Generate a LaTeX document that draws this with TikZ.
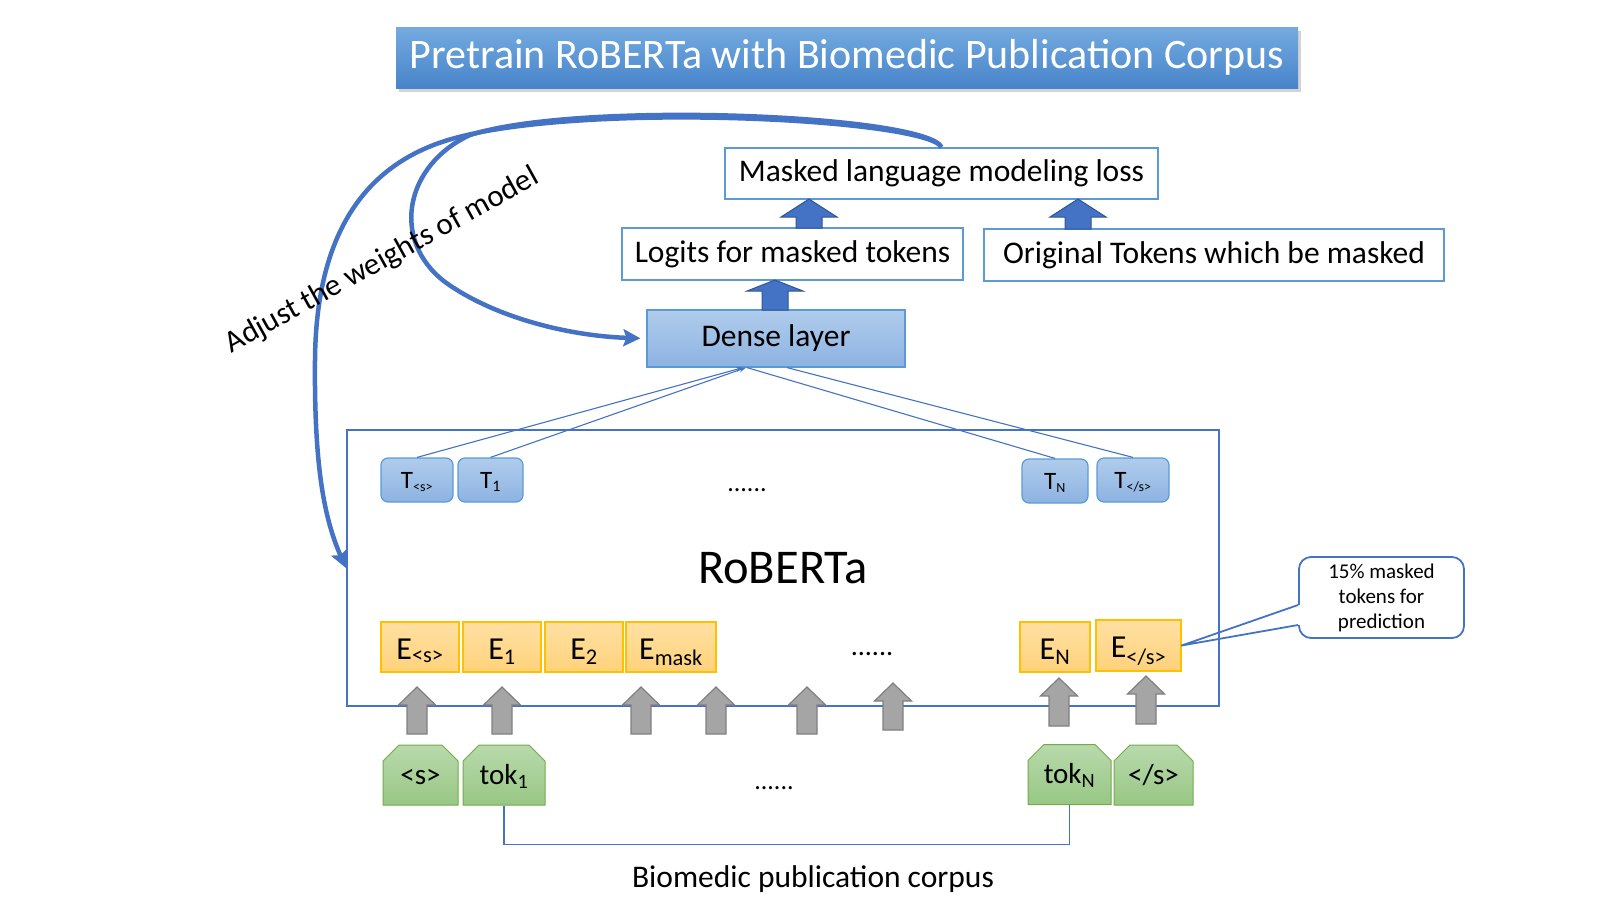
\documentclass[tikz,border=0pt]{standalone}
\usepackage{fontspec}
\setmainfont{Carlito}
\usetikzlibrary{calc,arrows.meta,shapes.misc,shadows}

\definecolor{linkblue}{HTML}{4472C4}
\definecolor{edgeblue}{HTML}{5B9BD5}
\definecolor{denseTop}{HTML}{B0CCEC}
\definecolor{denseBot}{HTML}{8DB3E2}
\definecolor{embTop}{HTML}{FFE0A3}
\definecolor{embBot}{HTML}{FFD27A}
\definecolor{embEdge}{HTML}{FFC000}
\definecolor{tokTop}{HTML}{B9D9AC}
\definecolor{tokBot}{HTML}{97C784}
\definecolor{tokEdge}{HTML}{70AD47}
\definecolor{arrGray}{HTML}{A5A5A5}
\definecolor{arrGrayEdge}{HTML}{7F7F7F}
\definecolor{arrBlueEdge}{HTML}{2F5597}
\definecolor{titleTop}{HTML}{74AADF}
\definecolor{titleBot}{HTML}{4784CA}

\begin{document}
\begin{tikzpicture}[x=1pt, y=-1pt,
        titlebox/.style={top color=titleTop, bottom color=titleBot, text=white, inner sep=0pt,
            minimum width=902pt, minimum height=61pt, font=\fontsize{42}{48}\selectfont,
            drop shadow={opacity=0.35, shadow xshift=3pt, shadow yshift=-4pt}},
        txtbox/.style={draw=edgeblue, line width=1.8pt, fill=white, inner sep=0pt,
            font=\fontsize{31.5}{36}\selectfont},
        layerbox/.style={draw=edgeblue, line width=1.2pt, top color=denseTop, bottom color=denseBot, inner sep=0pt},
        tbox/.style={layerbox, rounded corners=7pt, minimum height=44pt, text height=19pt, text depth=3pt,
            font=\fontsize{25}{30}\selectfont},
        ebox/.style={draw=embEdge, line width=1.2pt, top color=embTop, bottom color=embBot, inner sep=0pt,
            minimum height=50pt, text height=27pt, text depth=3pt, font=\fontsize{32}{38}\selectfont},
        tokbox/.style={chamfered rectangle, chamfered rectangle corners={north west,north east},
            chamfered rectangle xsep=8pt, chamfered rectangle ysep=8pt, draw=tokEdge, line width=1pt,
            top color=tokTop, bottom color=tokBot, inner sep=0pt, minimum height=60pt,
            text height=22pt, text depth=4pt, font=\fontsize{29}{34}\selectfont},
        dots/.style={anchor=base, inner sep=0pt, font=\fontsize{26}{30}\selectfont},
        thinline/.style={draw=linkblue, line width=1.1pt},
        bigcurve/.style={draw=linkblue, line width=4.5pt, -{Stealth[length=17pt, width=17pt, inset=3pt]}},
        bluearrow/.style={fill=linkblue, draw=arrBlueEdge, line width=1pt},
        grayarrow/.style={fill=arrGray, draw=arrGrayEdge, line width=1.2pt},
        note/.style={draw=linkblue, line width=1.8pt, rounded corners=12pt, fill=white, align=center,
            inner sep=0pt, minimum width=165pt, minimum height=81pt, font=\fontsize{21}{25}\selectfont}]

    \useasboundingbox (0,0) rectangle (1620,908);

    % Draw title banner
    \node[titlebox] (title) at (847,57.5) {Pretrain RoBERTa with Biomedic Publication Corpus};

    % Draw loss, logits and dense layer
    \node[txtbox, minimum width=433pt, minimum height=51pt] (mlm) at (941.5,173.5) {Masked language modeling loss};
    \node[txtbox, minimum width=341pt, minimum height=52pt] (logits) at (792.5,254) {Logits for masked tokens};
    \node[txtbox, minimum width=460pt, minimum height=52pt] (orig) at (1214,255) {Original Tokens which be masked};
    \node[layerbox, minimum width=258pt, minimum height=57pt, font=\fontsize{31.5}{36}\selectfont] (dense) at (776,338.5) {Dense layer};

    % Draw blue block arrows
    \foreach \x/\t/\b/\h in {809/199/228/18, 1078/199/229/18, 775/280/310/11}
        \draw[bluearrow] ({\x-13},\b) -- ({\x-13},{\t+\h}) -- ({\x-28},{\t+\h}) -- (\x,\t)
            -- ({\x+28},{\t+\h}) -- ({\x+13},{\t+\h}) -- ({\x+13},\b) -- cycle;

    % Draw RoBERTa block
    \node[draw=linkblue, line width=2.2pt, minimum width=872pt, minimum height=276pt, inner sep=0pt,
        font=\fontsize{48.5}{52}\selectfont] (roberta) at (783,568) {RoBERTa};

    % Draw output states
    \node[tbox, minimum width=72pt] (ts) at (417,480) {T\textsubscript{\fontsize{14}{14}\selectfont <s>}};
    \node[tbox, minimum width=65pt] (tone) at (490.5,480) {T\textsubscript{\fontsize{16}{16}\selectfont 1}};
    \node[tbox, minimum width=66pt] (tn) at (1055,481) {T\textsubscript{\fontsize{14}{14}\selectfont N}};
    \node[tbox, minimum width=72pt] (tend) at (1133,480) {T\textsubscript{\fontsize{14}{14}\selectfont </s>}};
    \node[dots] (tdots) at (747,491) {......};

    % Draw links into dense layer
    \draw[thinline, -{Stealth[length=7pt, width=5pt]}] (ts.north) -- ($(dense.south)+(-33,0)$);
    \draw[thinline, -{Stealth[length=7pt, width=5pt]}] (tone.north) -- ($(dense.south)+(-30,0)$);
    \draw[thinline] (tn.north) -- ($(dense.south)+(-29,0)$);
    \draw[thinline] (tend.north) -- ($(dense.south)+(11,0)$);

    % Draw input embeddings
    \node[ebox, minimum width=78pt] (es) at (420,647) {E\textsubscript{<s>}};
    \node[ebox, minimum width=78pt] (eone) at (502,647) {E\textsubscript{1}};
    \node[ebox, minimum width=78pt] (etwo) at (584,647) {E\textsubscript{2}};
    \node[ebox, minimum width=90pt] (emask) at (671,647) {E\textsubscript{mask}};
    \node[ebox, minimum width=70pt] (en) at (1055,647) {E\textsubscript{N}};
    \node[ebox, minimum width=85pt, minimum height=51pt] (eend) at (1138.5,645.5) {E\textsubscript{</s>}};
    \node[dots, font=\fontsize{28}{30}\selectfont] (edots) at (872,655) {......};

    % Draw gray arrows into RoBERTa
    \foreach \x/\t/\b in {417/687/734, 502/687/734, 641/687/734, 716/687/734,
                          807/687/734, 893/683/730, 1059/678/726, 1146/676/724}
        \draw[grayarrow] ({\x-10},\b) -- ({\x-10},{\t+18}) -- ({\x-18.5},{\t+18}) -- (\x,\t)
            -- ({\x+18.5},{\t+18}) -- ({\x+10},{\t+18}) -- ({\x+10},\b) -- cycle;

    % Draw input tokens
    \node[tokbox, minimum width=75pt] (toks) at (420.5,775) {<s>};
    \node[tokbox, minimum width=82pt] (tokone) at (504,775) {tok\textsubscript{1}};
    \node[tokbox, minimum width=83pt] (tokn) at (1069.5,774.5) {tok\textsubscript{N}};
    \node[tokbox, minimum width=79pt] (tokend) at (1153.5,775) {</s>};
    \node[dots] (tokdots) at (774,789) {......};

    % Draw corpus bracket
    \draw[thinline] (tokone.south) |- ($(tokn.south)+(0,39.5)$) -- (tokn.south);
    \node[anchor=base, inner sep=0pt, font=\fontsize{31.5}{36}\selectfont] (corpus) at (813,887) {Biomedic publication corpus};

    % Draw callout
    \node[note] (callout) at (1381.5,597.5) {15\% masked\\tokens for\\prediction};
    \coordinate (wa) at ($(callout.west)+(0,7.5)$);
    \coordinate (wb) at ($(callout.west)+(0,27.5)$);
    \fill[white] ($(wa)+(-2,0)$) rectangle ($(wb)+(2,0)$);
    \draw[draw=linkblue, line width=1.8pt, line join=round] (wa) -- (eend.east) -- (wb);

    % Draw weight update curves
    \draw[bigcurve] (mlm.north) .. controls (925,118) and (560,100) .. (439,143)
        .. controls (360,171) and (316,240) .. (315,360)
        .. controls (314,470) and (325,520) .. (roberta.west);
    \draw[bigcurve, shorten >=6pt] (mlm.north) .. controls (925,115) and (580,100) .. (470,135)
        .. controls (405,165) and (390,240) .. (445,282)
        .. controls (495,318) and (570,336) .. (dense.west);
    \node[anchor=base, rotate=29, inner sep=0pt, font=\fontsize{31}{36}\selectfont] (adjust) at (386,268) {Adjust the weights of model};
\end{tikzpicture}
\end{document}
